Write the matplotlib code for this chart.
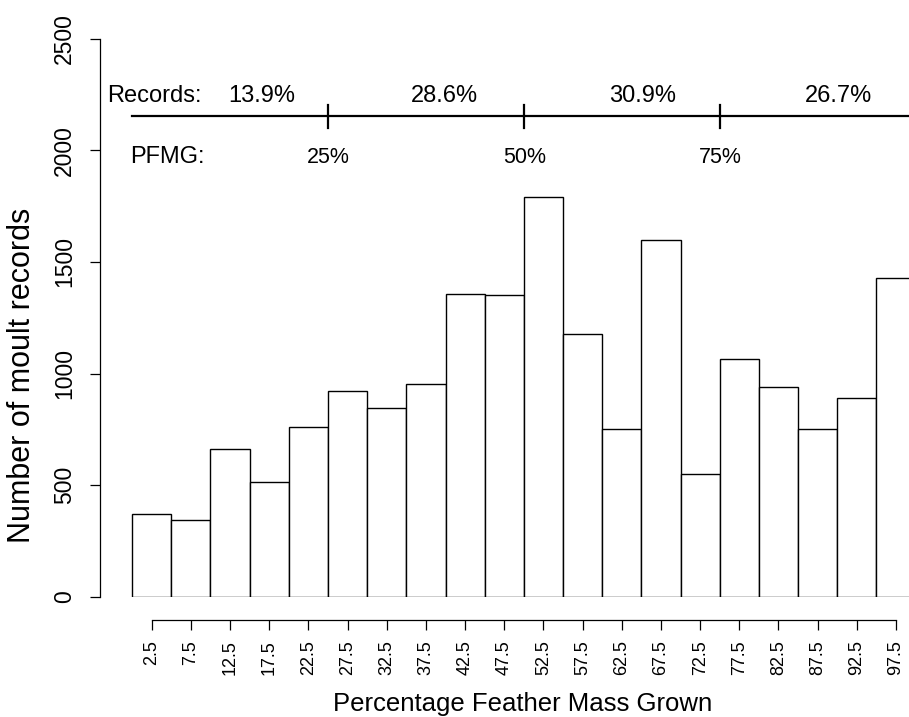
import numpy as np
import matplotlib
matplotlib.use('Agg')
import matplotlib.pyplot as plt

plt.rcParams['font.family'] = ['Liberation Sans', 'DejaVu Sans']

# bin mid points (percentage feather mass grown) and record counts
midPoints = [2.5, 7.5, 12.5, 17.5, 22.5, 27.5, 32.5, 37.5, 42.5, 47.5,
             52.5, 57.5, 62.5, 67.5, 72.5, 77.5, 82.5, 87.5, 92.5, 97.5]
counts = [371, 343, 662, 513, 763, 923, 848, 953, 1358, 1353,
          1789, 1179, 752, 1599, 550, 1067, 941, 752, 892, 1429]
tickLabels = [str(m) for m in midPoints]

# quartile split of the records
quartileCuts = [25, 50, 75]
quartileLabels = ['25%', '50%', '75%']
recordShares = ['13.9%', '28.6%', '30.9%', '26.7%']
shareCentres = [16.5, 39.8, 65.2, 90.2]


def plotMoult():
    fig = plt.figure(figsize=(9.09, 7.17), dpi=100)
    ax = fig.add_axes([100 / 909, (717 - 597) / 717, 809 / 909, (597 - 38.5) / 717])

    ax.bar(midPoints, counts, width=5, color='white', edgecolor='black', linewidth=1.0)

    ax.set_xlim(-4.1, 99.16)
    ax.set_ylim(0, 2500)

    for s in ['top', 'right']:
        ax.spines[s].set_visible(False)
    ax.spines['left'].set_linewidth(0.9)
    ax.spines['bottom'].set_position(('outward', 16.5))
    ax.spines['bottom'].set_bounds(2.5, 97.5)
    ax.spines['bottom'].set_linewidth(0.9)

    ax.set_yticks(np.arange(0, 2501, 500))
    ax.set_yticklabels([str(v) for v in range(0, 2501, 500)], rotation=90, va='center', fontsize=16.5)
    ax.set_xticks(midPoints)
    ax.set_xticklabels(tickLabels, rotation=90, fontsize=13)
    ax.tick_params(axis='y', direction='out', length=7.2, width=0.9, pad=10)
    ax.tick_params(axis='x', direction='out', length=7.2, width=0.9, pad=7.5)

    # records / PFMG annotation
    ax.plot([0, 100], [2153, 2153], color='black', linewidth=1.6, clip_on=False)
    for c in quartileCuts:
        ax.plot([c, c], [2099, 2202], color='black', linewidth=1.6)
    ax.text(-3.2, 2217, 'Records:', fontsize=17, ha='left', va='baseline')
    for x, lab in zip(shareCentres, recordShares):
        ax.text(x, 2217, lab, fontsize=17, ha='center', va='baseline')
    ax.text(-0.27, 1944, 'PFMG:', fontsize=17, ha='left', va='baseline')
    for c, lab in zip(quartileCuts, quartileLabels):
        ax.text(c + 0.05, 1941, lab, fontsize=15.5, ha='center', va='baseline')

    fig.text(22.5 / 909, 1 - 375 / 717, 'Number of moult records', rotation=90,
             ha='center', va='center', fontsize=22)
    fig.text(523 / 909, 1 - 711 / 717, 'Percentage Feather Mass Grown',
             ha='center', va='baseline', fontsize=18.5)

    fig.savefig('out.png', dpi=100)


plotMoult()
